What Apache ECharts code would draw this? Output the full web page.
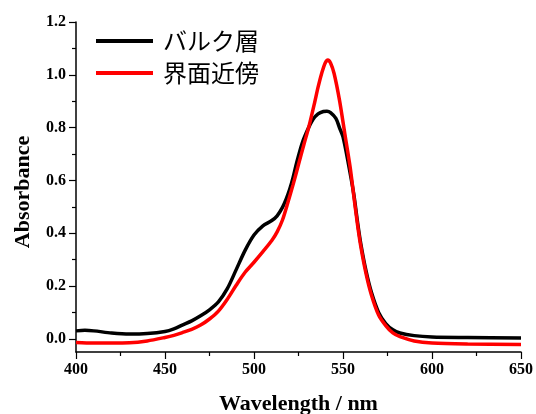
<!DOCTYPE html>
<html>
<head>
<meta charset="utf-8">
<script src="https://cdn.jsdelivr.net/npm/echarts@6/dist/echarts.min.js"></script>
<style>
  html, body { margin: 0; padding: 0; background: #fff; }
  #main { width: 536px; height: 414px; }
</style>
</head>
<body>
<div id="main"></div>
<script>
// 波長 (nm) と吸光度
const bulkWave = [400, 405, 410, 420, 430, 440, 450, 455, 460, 465, 470, 475, 480, 485, 490, 495, 500, 505, 510, 513, 516, 518, 520, 522, 524, 527, 530, 533, 536, 539, 541, 543, 546, 548, 550, 553, 556, 558, 560, 563, 566, 570, 574, 578, 582, 590, 600, 620, 650]
const bulkAbs = [0.030, 0.032, 0.030, 0.022, 0.018, 0.020, 0.028, 0.038, 0.053, 0.068, 0.087, 0.110, 0.140, 0.190, 0.262, 0.335, 0.393, 0.428, 0.448, 0.466, 0.498, 0.528, 0.565, 0.612, 0.668, 0.740, 0.790, 0.830, 0.852, 0.861, 0.862, 0.857, 0.835, 0.800, 0.765, 0.664, 0.550, 0.450, 0.360, 0.255, 0.175, 0.100, 0.058, 0.034, 0.022, 0.012, 0.007, 0.005, 0.003]

const surfWave = [400, 410, 420, 430, 440, 450, 455, 460, 465, 470, 475, 480, 485, 490, 495, 500, 505, 510, 513, 516, 519, 522, 525, 528, 531, 534, 536, 538, 540, 541.5, 543, 545, 548, 551, 554, 556, 558, 560, 563, 566, 570, 574, 578, 582, 590, 600, 620, 650]
const surfAbs = [-0.014, -0.016, -0.016, -0.015, -0.008, 0.005, 0.013, 0.024, 0.036, 0.052, 0.075, 0.105, 0.150, 0.203, 0.252, 0.290, 0.330, 0.372, 0.405, 0.450, 0.515, 0.585, 0.660, 0.735, 0.808, 0.893, 0.953, 1.005, 1.045, 1.056, 1.045, 1.005, 0.905, 0.778, 0.651, 0.545, 0.440, 0.350, 0.245, 0.165, 0.090, 0.050, 0.022, 0.008, -0.008, -0.016, -0.020, -0.022]

const yMajor = [0, 0.2, 0.4, 0.6, 0.8, 1.0, 1.2]
const yMinor = [0.1, 0.3, 0.5, 0.7, 0.9, 1.1]

const zip = (xs, ys) => xs.map((x, i) => [x, ys[i]])

const labelFont = {
  color: '#000',
  fontFamily: 'Liberation Serif',
  fontWeight: 'bold',
  fontSize: 16
}

let chart = echarts.init(document.getElementById('main'))
let option = {
  animation: false,
  grid: { left: 76, right: 15, top: 22, bottom: 62, outerBoundsMode: 'none', containLabel: false },
  legend: {
    orient: 'vertical',
    left: 91,
    top: 24,
    itemWidth: 57,
    itemHeight: 4,
    itemGap: 8,
    icon: 'rect',
    textStyle: { fontFamily: 'Noto Sans CJK JP', fontSize: 24, color: '#000', padding: [0, 0, 0, 5] },
    data: ['バルク層', '界面近傍']
  },
  xAxis: {
    type: 'value',
    min: 400,
    max: 650,
    interval: 50,
    name: 'Wavelength / nm',
    nameLocation: 'middle',
    nameGap: 41,
    nameTextStyle: { ...labelFont, fontSize: 22 },
    axisLine: { onZero: false, lineStyle: { color: '#000', width: 1.5 } },
    axisTick: { inside: false, length: 7, lineStyle: { color: '#000', width: 1.2 } },
    minorTick: { show: true, splitNumber: 2, length: 4, lineStyle: { color: '#000', width: 1.2 } },
    axisLabel: { ...labelFont, margin: 10 },
    splitLine: { show: false }
  },
  yAxis: [
    {
      type: 'value',
      min: -0.05,
      max: 1.2,
      name: 'Absorbance',
      nameLocation: 'middle',
      nameGap: 42,
      nameRotate: 90,
      nameTextStyle: { ...labelFont, fontSize: 22, padding: [0, 10, 0, 0] },
      axisLine: { show: true, onZero: false, lineStyle: { color: '#000', width: 1.5 } },
      axisTick: { show: true, length: 7, customValues: yMajor, lineStyle: { color: '#000', width: 1.2 } },
      axisLabel: { ...labelFont, margin: 10, customValues: yMajor, formatter: v => v.toFixed(1) },
      splitLine: { show: false }
    },
    {
      type: 'value',
      min: -0.05,
      max: 1.2,
      position: 'left',
      axisLine: { show: false },
      axisTick: { show: true, length: 4, customValues: yMinor, lineStyle: { color: '#000', width: 1.2 } },
      axisLabel: { show: false },
      splitLine: { show: false }
    }
  ],
  series: [
    {
      name: 'バルク層',
      type: 'line',
      data: zip(bulkWave, bulkAbs),
      smooth: 0.3,
      showSymbol: false,
      lineStyle: { color: '#000', width: 3.5 },
      itemStyle: { color: '#000' }
    },
    {
      name: '界面近傍',
      type: 'line',
      data: zip(surfWave, surfAbs),
      smooth: 0.3,
      showSymbol: false,
      lineStyle: { color: '#ff0000', width: 3.5 },
      itemStyle: { color: '#ff0000' }
    }
  ]
}
chart.setOption(option)
</script>
</body>
</html>
